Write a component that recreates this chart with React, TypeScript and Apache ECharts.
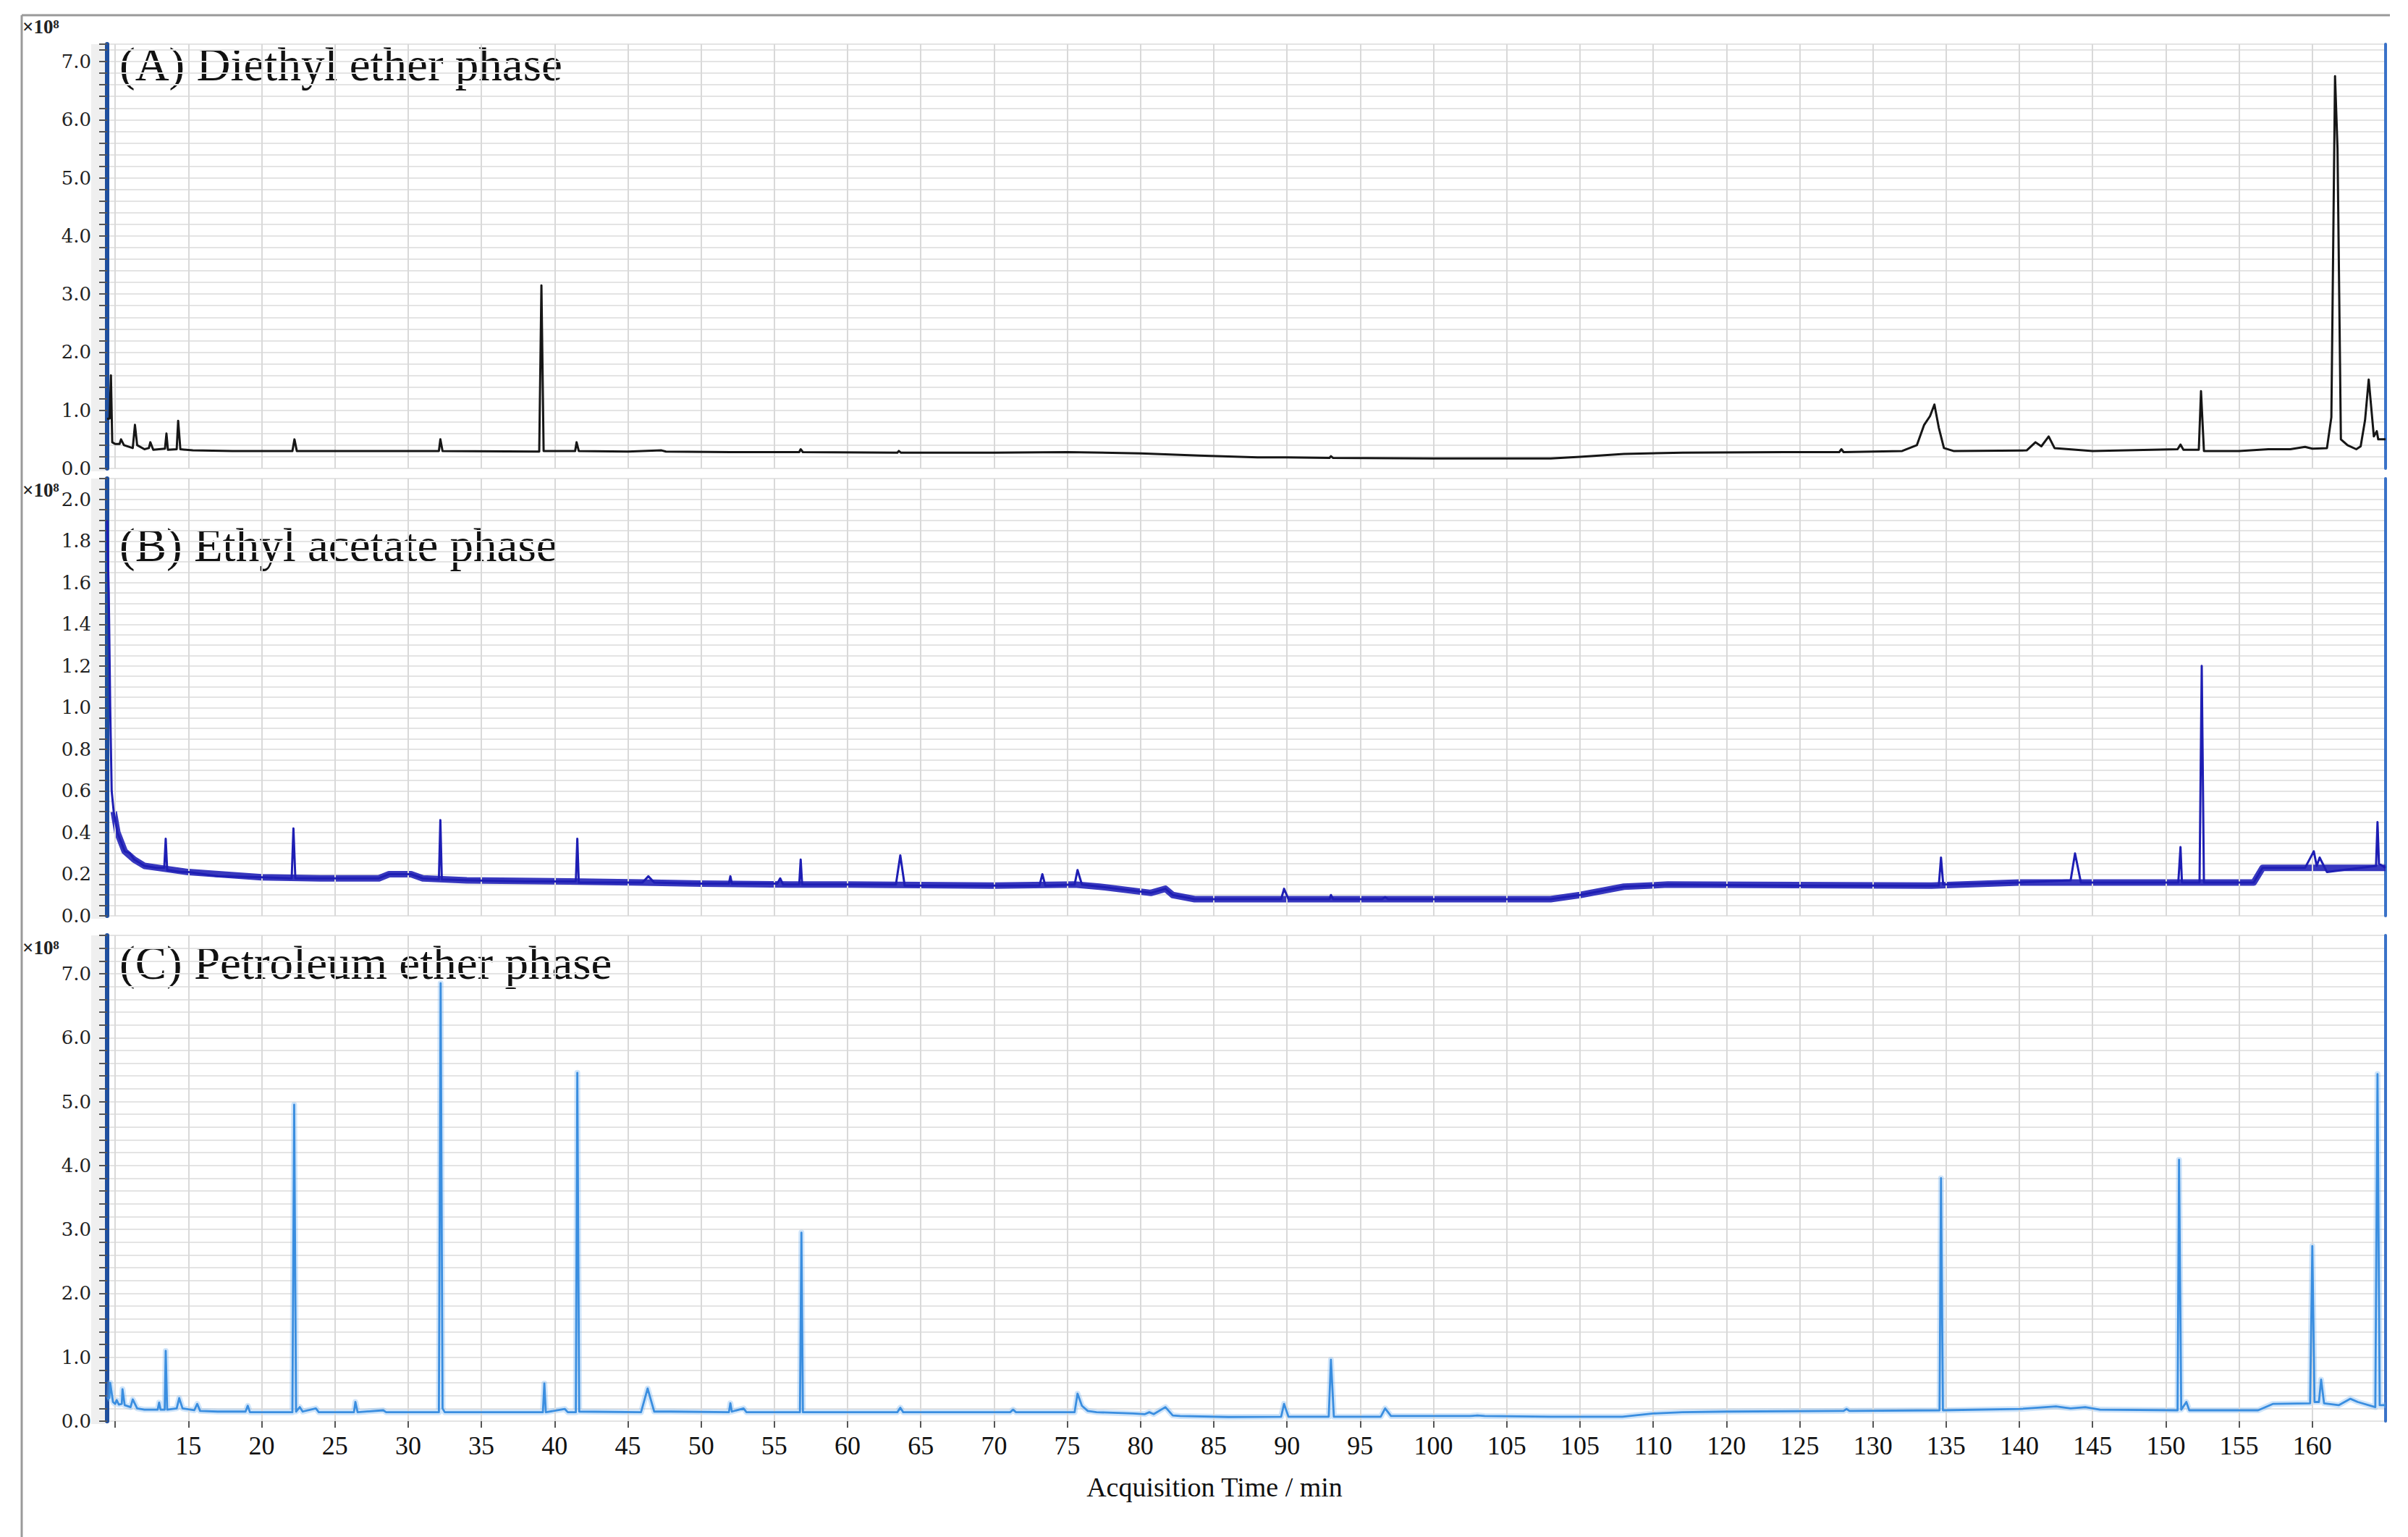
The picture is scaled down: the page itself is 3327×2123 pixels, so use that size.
import React, { useEffect, useRef } from 'react';
import * as echarts from 'echarts';

// x axis: tick positions (linear scale) and the labels printed under them
const xTickPositions = [15, 20, 25, 30, 35, 40, 45, 50, 55, 60, 65, 70, 75, 80, 85, 90, 95, 100, 105, 110, 115, 120, 125, 130, 135, 140, 145, 150, 155, 160];
const xTickLabels = ['15', '20', '25', '30', '35', '40', '45', '50', '55', '60', '65', '70', '75', '80', '85', '90', '95', '100', '105', '105', '110', '120', '125', '130', '135', '140', '145', '150', '155', '160'];
const xGridPositions = [10, 15, 20, 25, 30, 35, 40, 45, 50, 55, 60, 65, 70, 75, 80, 85, 90, 95, 100, 105, 110, 115, 120, 125, 130, 135, 140, 145, 150, 155, 160];

const panelTitles = ['(A) Diethyl ether phase', '(B) Ethyl acetate phase', '(C) Petroleum ether phase'];

// (A) Diethyl ether phase  [time, intensity ×10^8]
const aTrace = [
  [9.45, 0.85], [9.62, 0.86], [9.71, 1.6], [9.8, 0.45], [10.0, 0.42], [10.3, 0.42], [10.4, 0.5], [10.6, 0.4], [11.2, 0.35], [11.35, 0.75], [11.5, 0.4],
  [12.0, 0.33], [12.3, 0.35], [12.4, 0.45], [12.6, 0.32], [13.0, 0.33], [13.4, 0.34], [13.5, 0.6], [13.6, 0.32], [14.2, 0.33], [14.3, 0.82], [14.45, 0.33],
  [15.3, 0.31], [18, 0.3], [22.1, 0.3], [22.24, 0.5], [22.4, 0.3], [27, 0.3], [32.1, 0.3], [32.2, 0.5], [32.35, 0.3], [38.95, 0.29], [39.1, 3.15], [39.25, 0.3],
  [41.4, 0.3], [41.5, 0.45], [41.65, 0.3], [45, 0.29], [47.3, 0.31], [47.6, 0.29], [52, 0.28], [56.7, 0.28], [56.8, 0.33], [56.95, 0.28], [63.4, 0.27],
  [63.5, 0.3], [63.65, 0.27], [70, 0.27], [75, 0.28], [80, 0.26], [84, 0.22], [88, 0.19], [90, 0.19], [92.9, 0.18], [93, 0.21], [93.15, 0.18], [100, 0.17],
  [108, 0.17], [110, 0.2], [113, 0.25], [117, 0.27], [124, 0.28], [127.7, 0.28], [127.85, 0.33], [128, 0.28], [132, 0.3], [133, 0.4], [133.5, 0.75],
  [133.9, 0.9], [134.2, 1.1], [134.5, 0.7], [134.85, 0.35], [135.5, 0.3], [140.5, 0.31], [141.1, 0.45], [141.5, 0.38], [142.0, 0.55], [142.4, 0.35],
  [145, 0.3], [150.8, 0.33], [151.0, 0.41], [151.2, 0.32], [152.25, 0.32], [152.4, 1.33], [152.6, 0.3], [155, 0.3], [157, 0.33], [158.5, 0.33],
  [159.5, 0.37], [160, 0.34], [161, 0.35], [161.3, 0.88], [161.55, 6.75], [161.72, 5.5], [161.95, 0.5], [162.4, 0.4], [163.0, 0.33], [163.3, 0.38],
  [163.6, 0.83], [163.85, 1.53], [164.2, 0.55], [164.4, 0.64], [164.5, 0.5], [165, 0.5],
];

// (B) Ethyl acetate phase
const bTrace = [
  [9.45, 1.9], [9.56, 1.55], [9.66, 1.0], [9.76, 0.6], [9.9, 0.5], [10.15, 0.4], [10.65, 0.31], [11.0, 0.3], [11.3, 0.27], [12.0, 0.24], [12.8, 0.23],
  [13.35, 0.23], [13.45, 0.37], [13.55, 0.22], [14.5, 0.21], [15.0, 0.21], [17, 0.19], [20, 0.185], [22.05, 0.18], [22.17, 0.42], [22.3, 0.18], [24.1, 0.18],
  [28, 0.18], [28.7, 0.2], [30.2, 0.2], [31, 0.18], [32.1, 0.175], [32.2, 0.46], [32.3, 0.175], [34.2, 0.17], [38, 0.165], [41.45, 0.165], [41.55, 0.37],
  [41.65, 0.16], [46.0, 0.16], [46.4, 0.19], [46.8, 0.16], [49.4, 0.155], [51.9, 0.155], [52.0, 0.19], [52.1, 0.155], [55.2, 0.155], [55.4, 0.18],
  [55.6, 0.15], [56.7, 0.15], [56.8, 0.27], [56.9, 0.15], [59.5, 0.15], [63.3, 0.15], [63.6, 0.29], [63.9, 0.145], [68, 0.145], [73.1, 0.145], [73.3, 0.2],
  [73.5, 0.145], [75.5, 0.15], [75.7, 0.22], [76.0, 0.15], [77.2, 0.14], [80.7, 0.11], [81.7, 0.13], [82.2, 0.1], [83.7, 0.08], [88, 0.08], [89.6, 0.08],
  [89.8, 0.13], [90.1, 0.08], [92.9, 0.08], [93.0, 0.1], [93.15, 0.08], [96.5, 0.08], [96.7, 0.09], [96.9, 0.08], [108, 0.08], [110, 0.1], [113, 0.14],
  [116, 0.15], [125, 0.145], [134.5, 0.145], [134.65, 0.28], [134.8, 0.15], [140, 0.16], [143.5, 0.17], [143.8, 0.3], [144.2, 0.16], [150.85, 0.16],
  [151.0, 0.33], [151.1, 0.16], [152.3, 0.16], [152.45, 1.2], [152.6, 0.16], [156.0, 0.16], [156.6, 0.23], [159.5, 0.23], [160.1, 0.31], [160.3, 0.24],
  [160.5, 0.28], [161.0, 0.21], [164.35, 0.24], [164.45, 0.45], [164.55, 0.25], [165, 0.23],
];

// (B) thick noisy baseline band
const bBand = [
  [9.9, 0.5], [10.15, 0.4], [10.65, 0.31], [11.3, 0.27], [12, 0.24], [13, 0.23], [15, 0.21], [20, 0.185], [24, 0.18], [28, 0.18], [28.7, 0.2], [30.2, 0.2],
  [31, 0.18], [34, 0.17], [41, 0.165], [46, 0.16], [50, 0.155], [56, 0.15], [60, 0.15], [70, 0.145], [75.5, 0.15], [77.2, 0.14], [80.7, 0.11], [81.7, 0.13],
  [82.2, 0.1], [83.7, 0.08], [108, 0.08], [110, 0.1], [113, 0.14], [116, 0.15], [134, 0.145], [140, 0.16], [156, 0.16], [156.6, 0.23], [165, 0.23],
];

// (C) Petroleum ether phase
const cTrace = [
  [9.45, 0.35], [9.6, 0.36], [9.66, 0.6], [9.85, 0.3], [10.0, 0.27], [10.1, 0.33], [10.25, 0.26], [10.45, 0.27], [10.5, 0.5], [10.65, 0.25], [11.05, 0.22],
  [11.2, 0.34], [11.5, 0.2], [12.0, 0.18], [12.9, 0.18], [13.0, 0.29], [13.1, 0.18], [13.38, 0.18], [13.45, 1.1], [13.55, 0.18], [14.2, 0.2], [14.37, 0.36],
  [14.6, 0.2], [15.4, 0.17], [15.6, 0.27], [15.8, 0.16], [17, 0.15], [18.9, 0.15], [19.05, 0.24], [19.2, 0.14], [22.1, 0.14], [22.22, 4.95], [22.35, 0.15],
  [22.6, 0.22], [22.8, 0.15], [23.7, 0.2], [23.9, 0.14], [26.3, 0.14], [26.4, 0.3], [26.55, 0.14], [28.3, 0.17], [28.5, 0.14], [32.1, 0.14], [32.22, 6.85],
  [32.35, 0.2], [32.5, 0.14], [34.7, 0.14], [39.2, 0.14], [39.3, 0.59], [39.4, 0.14], [40.7, 0.19], [40.9, 0.14], [41.45, 0.14], [41.55, 5.45], [41.68, 0.15],
  [45.9, 0.14], [46.35, 0.51], [46.8, 0.15], [47.9, 0.15], [51.9, 0.14], [52.0, 0.28], [52.1, 0.15], [52.9, 0.2], [53.1, 0.14], [56.75, 0.14], [56.85, 2.95],
  [56.95, 0.14], [63.4, 0.14], [63.6, 0.21], [63.8, 0.14], [71.1, 0.14], [71.3, 0.18], [71.5, 0.14], [75.5, 0.14], [75.7, 0.43], [76.0, 0.24], [76.4, 0.16],
  [77, 0.14], [79.5, 0.12], [80.3, 0.11], [80.6, 0.14], [80.9, 0.11], [81.7, 0.22], [82.2, 0.09], [82.7, 0.08], [86, 0.065], [89.6, 0.07], [89.8, 0.27],
  [90.1, 0.07], [92.85, 0.07], [93.0, 0.96], [93.2, 0.07], [96.4, 0.07], [96.7, 0.2], [97.1, 0.08], [102.5, 0.08], [103, 0.09], [103.5, 0.08], [108, 0.07],
  [112.9, 0.07], [115, 0.12], [117, 0.14], [120, 0.15], [128, 0.16], [128.2, 0.19], [128.4, 0.16], [134.55, 0.17], [134.65, 3.8], [134.78, 0.17], [140, 0.19],
  [142.5, 0.23], [143.5, 0.2], [144.5, 0.22], [145.5, 0.18], [150.8, 0.17], [150.9, 4.09], [151.05, 0.18], [151.4, 0.3], [151.6, 0.17], [156.3, 0.17],
  [157.3, 0.27], [159.85, 0.28], [160.0, 2.74], [160.15, 0.3], [160.45, 0.3], [160.6, 0.65], [160.8, 0.28], [161.8, 0.25], [162.6, 0.35], [163.1, 0.3],
  [164.3, 0.22], [164.45, 5.43], [164.6, 0.25], [165, 0.25],
];

const yExtents = [
  { max: 7.3, interval: 0.2, labelStep: 1, labelMax: 7 },
  { max: 2.1, interval: 0.05, labelStep: 0.2, labelMax: 2 },
  { max: 7.6, interval: 0.2, labelStep: 1, labelMax: 7 },
];

const GRIDS = [
  { left: 148, top: 61, width: 3148, height: 586 },
  { left: 148, top: 661, width: 3148, height: 604 },
  { left: 148, top: 1292, width: 3148, height: 671 },
];

const X_MIN = 9.45;
const X_MAX = 165;

export default function App() {
  const ref = useRef<HTMLDivElement>(null);

  useEffect(() => {
    document.body.style.margin = '0';
    document.body.style.overflow = 'hidden';
    if (!ref.current) return;
    const chart = echarts.init(ref.current, null, { renderer: 'svg' });

    const xLabelFormatter = (v: number) => {
      const i = xTickPositions.findIndex((p) => Math.abs(p - v) < 1e-6);
      return i >= 0 ? xTickLabels[i] : '';
    };

    const xAxes = GRIDS.map((_, i) => {
      const last = i === 2;
      return {
        type: 'value',
        gridIndex: i,
        min: X_MIN,
        max: X_MAX,
        splitLine: { show: false },
        axisLine: {
          show: last,
          onZero: false,
          lineStyle: { color: '#3b6fc2', width: 5, shadowColor: 'rgba(0,0,0,0.35)', shadowOffsetY: 4, shadowBlur: 3 },
        },
        axisTick: {
          show: last,
          customValues: xGridPositions,
          length: 9,
          lineStyle: { color: '#555', width: 2 },
        },
        axisLabel: {
          show: last,
          customValues: xTickPositions,
          formatter: xLabelFormatter,
          margin: 16,
          fontFamily: '"Liberation Serif", "DejaVu Serif", serif',
          fontSize: 36,
          color: '#111',
        },
      };
    });

    const yLeft = yExtents.map((e, i) => ({
      type: 'value',
      gridIndex: i,
      min: 0,
      max: e.max,
      interval: e.interval,
      axisLine: { show: true, lineStyle: { color: '#1f4f9e', width: 6 } },
      axisTick: { show: true, length: 11, lineStyle: { color: '#555', width: 2 } },
      splitLine: { show: true, lineStyle: { color: '#e4e4e4', width: 2 } },
      axisLabel: {
        margin: 22,
        fontFamily: '"DejaVu Serif", "Liberation Serif", serif',
        fontSize: 26,
        color: '#222',
        formatter: (v: number) => {
          const k = v / e.labelStep;
          const ok = Math.abs(k - Math.round(k)) < 1e-6 && v <= e.labelMax + 1e-6;
          return ok ? v.toFixed(1) : '';
        },
      },
    }));

    const yRight = GRIDS.map((_, i) => ({
      type: 'value',
      gridIndex: i,
      position: 'right',
      min: 0,
      max: 1,
      axisLine: { show: true, lineStyle: { color: '#3a72c8', width: 4 } },
      axisTick: { show: false },
      axisLabel: { show: false },
      splitLine: { show: false },
    }));

    const gridSeries = GRIDS.map((_, i) => ({
      type: 'line',
      xAxisIndex: i,
      yAxisIndex: i,
      data: [[X_MIN, 0]],
      symbol: 'none',
      lineStyle: { width: 0 },
      silent: true,
      z: 1,
      markLine: {
        silent: true,
        symbol: 'none',
        label: { show: false },
        lineStyle: { color: '#d9d9d9', width: 2, type: 'solid' },
        data: xGridPositions.map((v) => ({ xAxis: v })),
      },
    }));

    const traceBase = { type: 'line', symbol: 'none', showSymbol: false, silent: true };

    const series: any[] = [
      ...gridSeries,
      { ...traceBase, name: panelTitles[0], xAxisIndex: 0, yAxisIndex: 0, data: aTrace, z: 5, lineStyle: { color: '#161616', width: 3, join: 'round' } },
      { ...traceBase, name: 'band', xAxisIndex: 1, yAxisIndex: 1, data: bBand, z: 4, lineStyle: { color: '#2222b8', width: 9, join: 'round', opacity: 0.9 } },
      { ...traceBase, name: panelTitles[1], xAxisIndex: 1, yAxisIndex: 1, data: bTrace, z: 5, lineStyle: { color: '#1e1eb4', width: 3, join: 'round' } },
      { ...traceBase, name: 'halo', xAxisIndex: 2, yAxisIndex: 2, data: cTrace, z: 4, lineStyle: { color: 'rgba(120,180,240,0.35)', width: 8, join: 'round' } },
      { ...traceBase, name: panelTitles[2], xAxisIndex: 2, yAxisIndex: 2, data: cTrace, z: 5, lineStyle: { color: '#3a8ee0', width: 2.8, join: 'round' } },
    ];

    const titleY = [89, 753, 1330];
    const expY = [37, 677, 1309];
    const serif = '"Liberation Serif", "DejaVu Serif", serif';

    const graphic: any[] = [
      { type: 'line', shape: { x1: 30, y1: 21, x2: 3302, y2: 21 }, style: { stroke: '#9a9a9a', lineWidth: 3 }, silent: true },
      { type: 'line', shape: { x1: 30, y1: 21, x2: 30, y2: 2123 }, style: { stroke: '#9a9a9a', lineWidth: 3 }, silent: true },
      ...GRIDS.map((g) => ({
        type: 'rect',
        z: -1,
        shape: { x: 126, y: g.top, width: 19, height: g.height + 4 },
        style: { fill: '#efefef' },
        silent: true,
      })),
      ...panelTitles.map((t, i) => ({
        type: 'text',
        x: 165,
        y: titleY[i],
        style: { text: t, font: `65px ${serif}`, fill: '#111', textVerticalAlign: 'middle', textAlign: 'left' },
        silent: true,
      })),
      ...expY.map((y) => ({
        type: 'text',
        x: 31,
        y,
        style: { text: '×10⁸', font: `bold 27px ${serif}`, fill: '#222', textVerticalAlign: 'middle', textAlign: 'left' },
        silent: true,
      })),
      {
        type: 'text',
        x: 1678,
        y: 2054,
        style: { text: 'Acquisition Time / min', font: `38px ${serif}`, fill: '#111', textAlign: 'center', textVerticalAlign: 'middle' },
        silent: true,
      },
    ];

    chart.setOption({
      animation: false,
      backgroundColor: '#ffffff',
      grid: GRIDS.map((g) => ({ ...g, containLabel: false, outerBoundsMode: 'none' })),
      xAxis: xAxes,
      yAxis: [...yLeft, ...yRight],
      series,
      graphic,
    });

    return () => chart.dispose();
  }, []);

  return <div ref={ref} style={{ width: 3327, height: 2123 }} />;
}
